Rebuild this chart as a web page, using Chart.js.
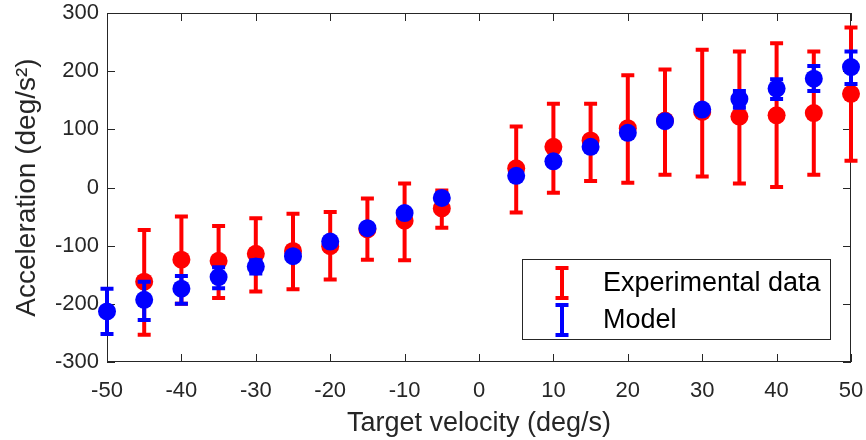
<!DOCTYPE html>
<html>
<head>
<meta charset="utf-8">
<script src="https://cdn.jsdelivr.net/npm/chart.js@4/dist/chart.umd.min.js"></script>
<style>
  html, body { margin: 0; padding: 0; background: #fff; }
</style>
</head>
<body>
<canvas id="myChart" width="866" height="440"></canvas>
<script>
const ctx = document.getElementById('myChart').getContext('2d');

// target velocities (deg/s)
const velocities = [-50, -45, -40, -35, -30, -25, -20, -15, -10, -5, 5, 10, 15, 20, 25, 30, 35, 40, 45, 50];

// experimental data: mean and error bar ends
const expMean = [null, -162, -124, -126, -114, -109, -101, -72, -57, -36, 33, 70, 81, 102, 115, 130, 122, 124, 128, 161];
const expLow  = [null, -253, -200, -190, -179, -175, -158, -124, -125, -69, -43, -9, 11, 8, 22, 19, 7, 1, 22, 46];
const expHigh = [null, -73, -50, -66, -53, -45, -42, -19, 7, -5, 105, 144, 144, 193, 203, 237, 234, 248, 234, 275];

// model: mean and error bar ends
const modelMean = [-213, -193, -174, -154, -136, -118, -93, -70, -44, -18, 20, 45, 70, 94, 114, 134, 152, 170, 187, 207];
const modelLow  = [-252, -228, -200, -173, -148, -123, -98, -75, -49, -23, 15, 40, 65, 89, 109, 129, 137, 152, 166, 178];
const modelHigh = [-174, -162, -152, -137, -125, -113, -88, -65, -39, -13, 25, 50, 75, 99, 119, 139, 166, 186, 209, 234];

const xTicks = [-50, -40, -30, -20, -10, 0, 10, 20, 30, 40, 50];
const yTicks = [-300, -200, -100, 0, 100, 200, 300];

const FONT = "'Liberation Sans', Arial, Helvetica, sans-serif";
const AXIS = '#262626';

const toPoints = (means) => velocities.map((v, i) => ({ x: v, y: means[i] }));

// error bars, drawn just before each dataset's markers
const errorBars = {
  id: 'errorBars',
  beforeDatasetDraw(chart, args) {
    const ds = chart.data.datasets[args.index];
    const xs = chart.scales.x, ys = chart.scales.y;
    const c = chart.ctx;
    c.save();
    c.strokeStyle = ds.backgroundColor;
    c.lineWidth = 4;
    c.lineCap = 'butt';
    velocities.forEach((v, i) => {
      if (ds.low[i] == null) return;
      const px = xs.getPixelForValue(v);
      const pLo = ys.getPixelForValue(ds.low[i]);
      const pHi = ys.getPixelForValue(ds.high[i]);
      c.beginPath();
      c.moveTo(px, pLo); c.lineTo(px, pHi);
      c.moveTo(px - 6.5, pLo); c.lineTo(px + 6.5, pLo);
      c.moveTo(px - 6.5, pHi); c.lineTo(px + 6.5, pHi);
      c.stroke();
    });
    c.restore();
  }
};

// box with inward ticks and the legend in the corner
const frame = {
  id: 'frame',
  beforeDatasetsDraw(chart) {
    const { left, right, top, bottom } = chart.chartArea;
    const c = chart.ctx;
    const xs = chart.scales.x, ys = chart.scales.y;
    c.save();
    c.strokeStyle = AXIS;
    c.lineWidth = 1;
    c.strokeRect(left + 0.5, top + 0.5, right - left - 1, bottom - top - 1);
    c.beginPath();
    xTicks.forEach(t => {
      const px = Math.round(xs.getPixelForValue(t)) + 0.5;
      c.moveTo(px, bottom); c.lineTo(px, bottom - 8);
      c.moveTo(px, top); c.lineTo(px, top + 8);
    });
    yTicks.forEach(t => {
      const py = Math.round(ys.getPixelForValue(t)) + 0.5;
      c.moveTo(left, py); c.lineTo(left + 8, py);
      c.moveTo(right, py); c.lineTo(right - 8, py);
    });
    c.stroke();
    c.restore();
  },
  afterDraw(chart) {
    const c = chart.ctx;
    const { right, bottom } = chart.chartArea;
    const bx = right - 329, by = bottom - 103, bw = 308, bh = 80;
    c.save();
    c.fillStyle = '#fff';
    c.fillRect(bx, by, bw, bh);
    c.strokeStyle = AXIS;
    c.lineWidth = 1;
    c.strokeRect(bx + 0.5, by + 0.5, bw, bh);
    chart.data.datasets.forEach((ds, i) => {
      const cy = by + 24 + i * 37;
      const ix = bx + 40;
      c.strokeStyle = ds.backgroundColor;
      c.lineWidth = 4;
      c.beginPath();
      c.moveTo(ix, cy - 15); c.lineTo(ix, cy + 15);
      c.moveTo(ix - 6.5, cy - 15); c.lineTo(ix + 6.5, cy - 15);
      c.moveTo(ix - 6.5, cy + 15); c.lineTo(ix + 6.5, cy + 15);
      c.stroke();
      c.fillStyle = '#000';
      c.font = '27px ' + FONT;
      c.textBaseline = 'middle';
      c.fillText(ds.label, bx + 81, cy + 1);
    });
    c.restore();
  }
};

new Chart(ctx, {
  type: 'scatter',
  data: {
    datasets: [
      {
        label: 'Experimental data',
        data: toPoints(expMean),
        low: expLow,
        high: expHigh,
        backgroundColor: '#FF0000',
        borderWidth: 0,
        pointRadius: 9,
        pointHoverRadius: 9,
        clip: false,
        order: 2
      },
      {
        label: 'Model',
        data: toPoints(modelMean),
        low: modelLow,
        high: modelHigh,
        backgroundColor: '#0000FF',
        borderWidth: 0,
        pointRadius: 9,
        pointHoverRadius: 9,
        clip: false,
        order: 1
      }
    ]
  },
  options: {
    responsive: false,
    animation: false,
    layout: { padding: { top: 13, right: 15, left: 0, bottom: 0 } },
    plugins: {
      legend: { display: false },
      tooltip: { enabled: false }
    },
    scales: {
      x: {
        type: 'linear',
        min: -50,
        max: 50,
        afterBuildTicks: (s) => { s.ticks = xTicks.map(v => ({ value: v })); },
        afterFit: (s) => { s.height = 78; s.paddingLeft = 0; s.paddingRight = 0; },
        grid: { display: false, drawTicks: false },
        border: { display: false },
        ticks: { color: AXIS, padding: 16, font: { family: FONT, size: 22 } },
        title: {
          display: true,
          text: 'Target velocity (deg/s)',
          color: AXIS,
          padding: { top: 11, bottom: 0 },
          font: { family: FONT, size: 27 }
        }
      },
      y: {
        type: 'linear',
        min: -300,
        max: 300,
        afterBuildTicks: (s) => { s.ticks = yTicks.map(v => ({ value: v })); },
        afterFit: (s) => { s.width = 107; s.paddingTop = 0; s.paddingBottom = 0; },
        grid: { display: false, drawTicks: false },
        border: { display: false },
        ticks: { color: AXIS, padding: 8, font: { family: FONT, size: 22 } },
        title: {
          display: true,
          text: 'Acceleration (deg/s\u00B2)',
          color: AXIS,
          padding: { top: 10, bottom: 0 },
          font: { family: FONT, size: 28 }
        }
      }
    }
  },
  plugins: [frame, errorBars]
});
</script>
</body>
</html>
